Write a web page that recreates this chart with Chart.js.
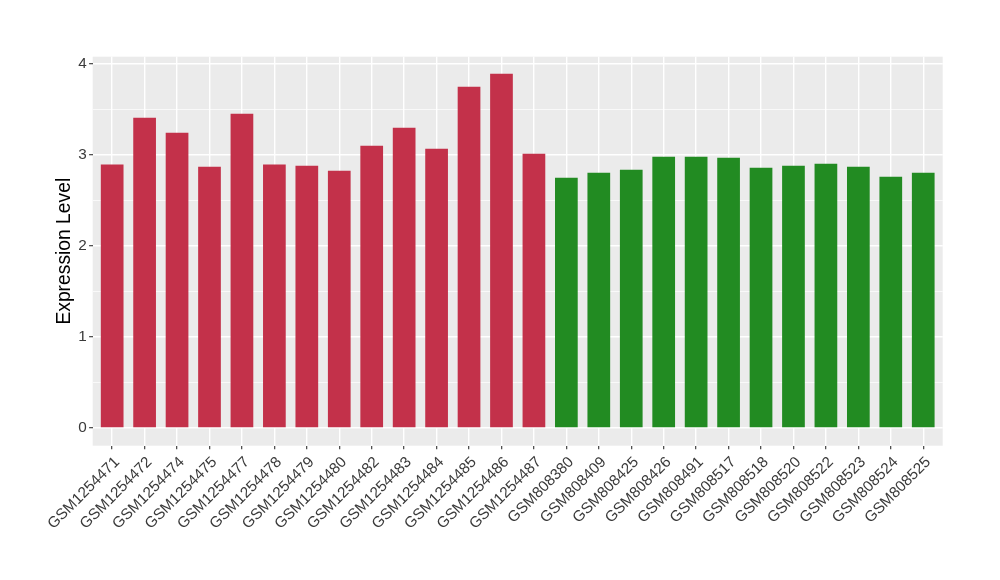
<!DOCTYPE html>
<html>
<head>
<meta charset="utf-8">
<script src="https://cdn.jsdelivr.net/npm/chart.js@4/dist/chart.umd.min.js"></script>
<style>
html,body{margin:0;padding:0;background:#fff;}
canvas{display:block;}
</style>
</head>
<body>
<canvas id="c" width="1000" height="580"></canvas>
<script>
const samples = ["GSM1254471","GSM1254472","GSM1254474","GSM1254475","GSM1254477","GSM1254478","GSM1254479","GSM1254480","GSM1254482","GSM1254483","GSM1254484","GSM1254485","GSM1254486","GSM1254487","GSM808380","GSM808409","GSM808425","GSM808426","GSM808491","GSM808517","GSM808518","GSM808520","GSM808522","GSM808523","GSM808524","GSM808525"];
const values = [2.89,3.405,3.24,2.867,3.448,2.89,2.878,2.823,3.098,3.295,3.065,3.745,3.887,3.01,2.747,2.801,2.834,2.977,2.977,2.966,2.856,2.878,2.90,2.867,2.757,2.801];
const groups = ["A","A","A","A","A","A","A","A","A","A","A","A","A","A","B","B","B","B","B","B","B","B","B","B","B","B"];
const groupColors = {A:"#C3314A", B:"#228B22"};
const yTicks = [0,0.5,1,1.5,2,2.5,3,3.5,4];

const panelBg = {
  id:'panelBg',
  beforeDraw(chart){
    const a = chart.chartArea, ctx = chart.ctx;
    ctx.save();
    ctx.fillStyle = '#EBEBEB';
    ctx.fillRect(a.left, a.top, a.right - a.left, a.bottom - a.top);
    ctx.restore();
  }
};

const FONT = "'Liberation Sans', Arial, Helvetica, sans-serif";

new Chart(document.getElementById('c'), {
  type:'bar',
  data:{
    datasets:[{
      data: values.map((v,i)=>({x:i, y:v})),
      backgroundColor: groups.map(g=>groupColors[g]),
      borderWidth:0,
      barPercentage:0.7,
      categoryPercentage:1.0
    }]
  },
  options:{
    responsive:false,
    animation:false,
    layout:{padding:{top:56.7, right:57.3, left:0, bottom:0}},
    plugins:{legend:{display:false}, tooltip:{enabled:false}},
    scales:{
      x:{
        type:'linear',
        min:-0.6, max:samples.length - 1 + 0.6,
        offset:false,
        afterBuildTicks(scale){ scale.ticks = samples.map((_,i)=>({value:i})); },
        afterFit(scale){ scale.height = 580 - 445.7; },
        ticks:{
          autoSkip:false,
          minRotation:45, maxRotation:45,
          padding:4,
          labelOffset:5,
          color:'#3A3A3A',
          font:{family:FONT, size:15.3},
          callback:(v)=>samples[v]
        },
        grid:{
          offset:false,
          color:'#FFFFFF',
          lineWidth:1.4,
          tickColor:'#333333',
          tickLength:3.6,
          tickWidth:1.1
        },
        border:{display:false}
      },
      y:{
        min:-0.194, max:4.074,
        afterBuildTicks(scale){ scale.ticks = yTicks.map(v=>({value:v})); },
        afterFit(scale){ scale.width = 92.7; },
        ticks:{
          padding:2.4,
          color:'#3A3A3A',
          font:{family:FONT, size:15.3},
          callback:(v)=> Number.isInteger(v) ? String(v) : ''
        },
        grid:{
          color:'#FFFFFF',
          lineWidth:(c)=> (c.tick && Number.isInteger(c.tick.value)) ? 1.4 : 0.7,
          tickColor:(c)=> (c.tick && Number.isInteger(c.tick.value)) ? '#333333' : 'rgba(0,0,0,0)',
          tickLength:3.6,
          tickWidth:1.1
        },
        border:{display:false},
        title:{
          display:true,
          text:'Expression Level',
          color:'#000000',
          font:{family:FONT, size:19.3},
          padding:{top:53.4, bottom:0}
        }
      }
    }
  },
  plugins:[panelBg]
});
</script>
</body>
</html>
